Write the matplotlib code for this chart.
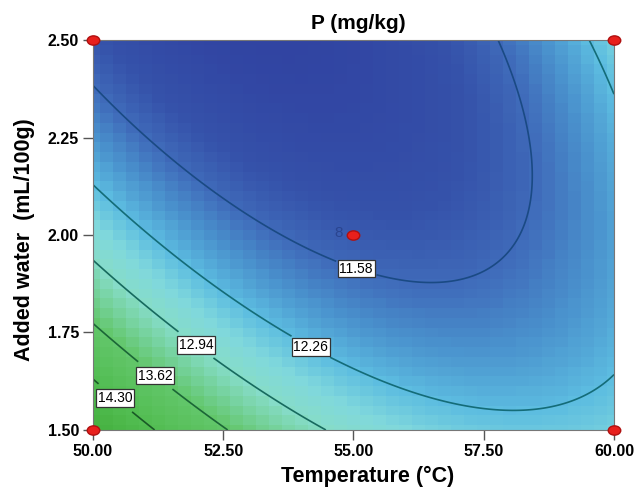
import numpy as np
import matplotlib
matplotlib.use('Agg')
import matplotlib.pyplot as plt
from matplotlib.colors import LinearSegmentedColormap, Normalize
from matplotlib.path import Path

plt.rcParams['font.family'] = ['Liberation Sans', 'DejaVu Sans']

# Contour readings: temperature (C), added water (mL/100g), P (mg/kg)
temp_pts = [50.00, 51.23, 52.50, 53.59, 55.03, 56.53, 58.50, 58.46, 58.20, 57.81,
            50.00, 51.09, 54.22, 55.51, 57.95, 60.00, 60.00, 59.50,
            50.00, 50.77, 52.02, 54.36,
            50.00, 51.25, 52.52,
            50.00, 51.15]
water_pts = [2.377, 2.244, 2.123, 1.987, 1.905, 1.867, 2.140, 2.218, 2.346, 2.500,
             2.115, 1.987, 1.723, 1.628, 1.556, 1.649, 2.351, 2.500,
             1.949, 1.833, 1.726, 1.500,
             1.762, 1.650, 1.500,
             1.635, 1.500]
p_pts = [11.58] * 10 + [12.26] * 8 + [12.94] * 4 + [13.62] * 3 + [14.30] * 2

levels = [11.58, 12.26, 12.94, 13.62, 14.30]
level_colors = ['#1a4a84', '#146c78', '#176a5e', '#1b6636', '#195a26']
label_pos = [(55.03, 1.905), (54.22, 1.723), (52.02, 1.726), (51.25, 1.649), (50.52, 1.597)]

# design points (corners + centre with 8 replicates)
design_t = [50, 50, 60, 60, 55]
design_w = [1.5, 2.5, 1.5, 2.5, 2.0]

xticks = [50.00, 52.50, 55.00, 57.50, 60.00]
yticks = [1.50, 1.75, 2.00, 2.25, 2.50]


def quad_terms(t, w):
    a = (np.asarray(t) - 55.0) / 5.0
    b = (np.asarray(w) - 2.0) / 0.5
    return np.stack([np.ones_like(a), a, b, a * b, a ** 2, b ** 2], axis=-1)


def fit_model():
    X = quad_terms(temp_pts, water_pts)
    coef, *_ = np.linalg.lstsq(X, np.array(p_pts), rcond=None)
    return coef


def surface(coef, n):
    t = np.linspace(50, 60, n)
    w = np.linspace(1.5, 2.5, n)
    T, W = np.meshgrid(t, w)
    return T, W, quad_terms(T, W) @ coef


def main():
    coef = fit_model()

    fig = plt.figure(figsize=(6.44, 4.94), dpi=100)
    ax = fig.add_axes([0.1444, 0.1296, 0.8090, 0.7894])

    vmin, vmax = 10.9, 15.0
    stops = [(10.9, '#3144a2'), (11.3, '#3552aa'), (11.58, '#3f6ab9'), (11.9, '#4a92cd'),
             (12.26, '#5cbce0'), (12.6, '#80d8dc'), (12.94, '#86dcc8'), (13.62, '#62c66a'),
             (14.30, '#52bd52'), (15.0, '#44b03e')]
    cmap = LinearSegmentedColormap.from_list('de', [((v - vmin) / (vmax - vmin), c) for v, c in stops])
    norm = Normalize(vmin=vmin, vmax=vmax)

    # blocky colour fill like Design-Expert
    Tc, Wc, Pc = surface(coef, 41)
    ax.pcolormesh(Tc, Wc, Pc, cmap=cmap, norm=norm, shading='nearest')

    Tf, Wf, Pf = surface(coef, 300)
    cs = ax.contour(Tf, Wf, Pf, levels=levels, colors=level_colors, linewidths=1.2)
    labels = ax.clabel(cs, fmt='%.2f', manual=label_pos, inline=True, fontsize=10, inline_spacing=4)
    for lab in labels:
        lab.set_rotation(0)
        lab.set_color('black')
        lab.set_bbox(dict(boxstyle='square,pad=0.12', facecolor='white', edgecolor='#333333', linewidth=0.9))

    ell = Path.unit_circle()
    ell = Path(ell.vertices * [1.35, 1.0], ell.codes)
    ax.plot(design_t, design_w, linestyle='none', marker=ell, color='#e8201c', markeredgecolor='#b01010',
            markersize=9, clip_on=False, zorder=5)
    ax.text(54.8, 2.005, '8', color='#2a4590', fontsize=11, ha='right', va='center', zorder=5)

    ax.set_xlim(50, 60)
    ax.set_ylim(1.5, 2.5)
    ax.set_xticks(xticks)
    ax.set_yticks(yticks)
    ax.set_xticklabels([f'{v:.2f}' for v in xticks], fontsize=11.5, fontweight='bold')
    ax.set_yticklabels([f'{v:.2f}' for v in yticks], fontsize=11.5, fontweight='bold')
    ax.tick_params(direction='out', length=7, color='#555555', width=1, pad=3)
    for sp in ax.spines.values():
        sp.set_color('#777777')

    ax.set_title('P (mg/kg)', fontsize=15, fontweight='bold', pad=8, x=0.51)
    ax.set_xlabel('Temperature (\u00b0C)', fontsize=15.5, fontweight='bold', labelpad=5)
    ax.set_ylabel('Added water  (mL/100g)', fontsize=15.5, fontweight='bold', labelpad=9)
    ax.xaxis.label.set_x(0.527)
    ax.yaxis.label.set_y(0.487)

    fig.savefig('out.png', dpi=100)


if __name__ == '__main__':
    main()
